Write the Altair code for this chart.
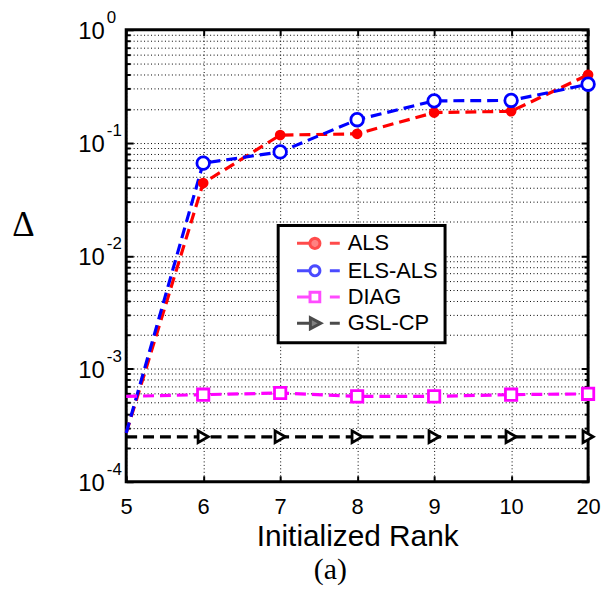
import math
import altair as alt
import pandas as pd

# ---- data ----
RANKS = ["5", "6", "7", "8", "9", "10", "20"]
SERIES = ["ALS", "ELS-ALS", "DIAG", "GSL-CP"]
COLORS = ["#ff0000", "#0000ff", "#ff00ff", "#000000"]
ALS = [2.7e-4, 0.044, 0.117, 0.120, 0.185, 0.190, 0.40]
ELS_ALS = [2.7e-4, 0.066, 0.083, 0.160, 0.235, 0.237, 0.33]
DIAG = [5.7e-4, 5.9e-4, 6.1e-4, 5.7e-4, 5.7e-4, 5.9e-4, 6.0e-4]
GSL_CP = [2.5e-4, 2.5e-4, 2.5e-4, 2.5e-4, 2.5e-4, 2.5e-4, 2.5e-4]
Y_TICK_BASE = "10"
Y_TICK_EXPONENTS = ["-4", "-3", "-2", "-1", "0"]
X_TITLE = "Initialized Rank"
Y_TITLE = "Δ"
PANEL = "(a)"

VALUES = [ALS, ELS_ALS, DIAG, GSL_CP]
rows = []
for name, vals in zip(SERIES, VALUES):
    for r, v in zip(RANKS, vals):
        rows.append({"rank": r, "series": name, "value": v})
df = pd.DataFrame(rows)

# legend-only rows (outside the y domain, clipped away)
legend_df = pd.DataFrame({"rank": ["5"] * 4, "series": SERIES, "value": [1e-6] * 4})

# ---- legend glyphs: line - marker - dash, in symbol units (7 px / unit) ----
CX = 2.71
LINE = "M0.14,0L2.0,0M4.86,0L6.29,0"


def poly(pts):
    return "M" + "L".join(f"{x:.3f},{y:.3f}" for x, y in pts) + "Z"


circle = poly([(CX + 0.72 * math.cos(2 * math.pi * k / 20), 0.72 * math.sin(2 * math.pi * k / 20)) for k in range(20)])
square = poly([(CX - 0.7, -0.7), (CX + 0.7, -0.7), (CX + 0.7, 0.7), (CX - 0.7, 0.7)])
tri = poly([(CX - 0.65, -0.8), (CX + 0.85, 0), (CX - 0.65, 0.8)])
LEG_SHAPES = [LINE + circle, LINE + circle, LINE + square, LINE + tri]
LEG_FILLS = ["#ff0000", "#ffffff", "#ffffff", "#000000"]

# ---- scales ----
xscale = alt.Scale(type="point", padding=0)
yscale = alt.Scale(type="log", domain=[1e-4, 1], nice=False)

major_y = [10.0 ** e for e in range(-4, 1)]
minor_y = [k * 10.0 ** e for e in range(-4, 0) for k in range(2, 10)]
log_ticks = sorted(major_y + minor_y)


def tick_axis(orient, size, values=None):
    kw = dict(
        orient=orient,
        title=None,
        labels=False,
        grid=False,
        domain=False,
        ticks=True,
        tickSize=size,
        tickWidth=2,
        tickColor="black",
        offset=-size,
    )
    if values is not None:
        kw["values"] = values
    return alt.Axis(**kw)


x_main = alt.X(
    "rank:O",
    sort=RANKS,
    scale=xscale,
    axis=alt.Axis(
        title=X_TITLE,
        labelAngle=0,
        labelFont="Liberation Sans",
        labelFontSize=22,
        labelColor="black",
        labelPadding=15,
        ticks=False,
        domain=False,
        grid=True,
        gridColor="black",
        gridDash=[1, 2.5],
        gridWidth=1,
        titleFont="Liberation Sans",
        titleFontSize=30,
        titleFontWeight="normal",
        titleColor="black",
        titleBaseline="alphabetic",
        titleY=64,
    ),
)
x_bot = alt.X("rank:O", sort=RANKS, scale=xscale, axis=tick_axis("bottom", 6))
x_top = alt.X("rank:O", sort=RANKS, scale=xscale, axis=tick_axis("top", 6))
x_plain = alt.X("rank:O", sort=RANKS, scale=xscale, axis=None)

is_decade = "abs(log(datum.value)/LN10 - round(log(datum.value)/LN10)) < 0.001"
base_expr = f"{is_decade} ? '{Y_TICK_BASE}' : ''"
exp_expr = (
    f"{is_decade} ? "
    + "[" + ",".join(f"'{t}'" for t in Y_TICK_EXPONENTS) + "][round(log(datum.value)/LN10)+4] : ''"
)

y_main = alt.Y(
    "value:Q",
    scale=yscale,
    axis=alt.Axis(
        orient="left",
        title=Y_TITLE,
        values=log_ticks,
        labelExpr=base_expr,
        labelOverlap=False,
        labelFont="Liberation Sans",
        labelFontSize=24,
        labelColor="black",
        labelPadding=22,
        labelOffset=2,
        ticks=False,
        domain=False,
        grid=True,
        gridColor="black",
        gridDash=[1, 2.5],
        gridWidth=1,
        titleAngle=0,
        titleFont="Liberation Serif",
        titleFontSize=35,
        titleFontWeight="normal",
        titleColor="black",
        titleX=-104,
        titleY=196,
        titleAlign="center",
        titleBaseline="middle",
    ),
)
y_exp = alt.Y(
    "value:Q",
    scale=yscale,
    axis=alt.Axis(
        orient="left",
        title=None,
        values=log_ticks,
        labelExpr=exp_expr,
        labelOverlap=False,
        labelFont="Liberation Sans",
        labelFontSize=17,
        labelColor="black",
        labelAlign="left",
        labelPadding=20,
        labelOffset=-12,
        ticks=False,
        domain=False,
        grid=False,
    ),
)
y_lmaj = alt.Y("value:Q", scale=yscale, axis=tick_axis("left", 7, major_y))
y_lmin = alt.Y("value:Q", scale=yscale, axis=tick_axis("left", 4, minor_y))
y_rmaj = alt.Y("value:Q", scale=yscale, axis=tick_axis("right", 7, major_y))
y_rmin = alt.Y("value:Q", scale=yscale, axis=tick_axis("right", 4, minor_y))
y_plain = alt.Y("value:Q", scale=yscale, axis=None)

base = alt.Chart(df)
layers = []
line_axes = [(x_main, y_main), (x_bot, y_exp), (x_top, y_lmaj), (x_plain, y_lmin)]
for (name, col), (xx, yy) in zip(zip(SERIES, COLORS), line_axes):
    layers.append(
        base.transform_filter(alt.datum.series == name)
        .mark_line(color=col, strokeWidth=3.2, strokeDash=[11, 6])
        .encode(x=xx, y=yy)
    )

marker_style = {
    "ALS": dict(shape="circle", filled=True, color="#ff0000", size=115),
    "ELS-ALS": dict(shape="circle", filled=True, fill="white", stroke="#0000ff", strokeWidth=2.8, size=160),
    "DIAG": dict(shape="square", filled=True, fill="white", stroke="#ff00ff", strokeWidth=2.8, size=130),
    "GSL-CP": dict(shape="triangle-right", filled=True, fill="white", stroke="#000000", strokeWidth=2.8, size=140),
}
marker_axes = [y_rmaj, y_rmin, y_plain, y_plain]
for name, yy in zip(SERIES, marker_axes):
    layers.append(
        base.transform_filter((alt.datum.series == name) & (alt.datum.rank != "5"))
        .mark_point(opacity=1, **marker_style[name])
        .encode(x=x_plain, y=yy)
    )

leg = alt.Legend(
    title=None,
    orient="none",
    legendX=153,
    legendY=197,
    symbolSize=196,
    symbolStrokeWidth=3,
    labelFont="Liberation Sans",
    labelFontSize=22,
    labelColor="black",
    labelOffset=41,
    labelLimit=0,
    padding=7,
    rowPadding=3.5,
    strokeColor="black",
    fillColor="white",
)
legend_layer = (
    alt.Chart(legend_df)
    .mark_point(clip=True, filled=True)
    .encode(
        x=x_plain,
        y=y_plain,
        shape=alt.Shape("series:N", sort=SERIES, scale=alt.Scale(domain=SERIES, range=LEG_SHAPES), legend=leg),
        stroke=alt.Stroke("series:N", sort=SERIES, scale=alt.Scale(domain=SERIES, range=COLORS), legend=leg),
        fill=alt.Fill("series:N", sort=SERIES, scale=alt.Scale(domain=SERIES, range=LEG_FILLS), legend=leg),
    )
)
layers.append(legend_layer)

chart = (
    alt.layer(*layers)
    .resolve_axis(x="independent", y="independent")
    .properties(
        width=465,
        height=455,
        padding={"left": 119, "top": 20, "right": 14, "bottom": 104},
        autosize=alt.AutoSizeParams(type="none"),
        title=alt.TitleParams(
            text=PANEL,
            orient="bottom",
            font="Liberation Serif",
            fontSize=30,
            fontWeight="normal",
            color="black",
            anchor="middle",
            dx=-27,
            offset=4,
        ),
        background="white",
    )
    .configure_view(stroke="black", strokeWidth=3)
    .configure_legend(strokeWidth=3)
)

chart.save("out.html", embed_options={"renderer": "svg", "actions": False})
